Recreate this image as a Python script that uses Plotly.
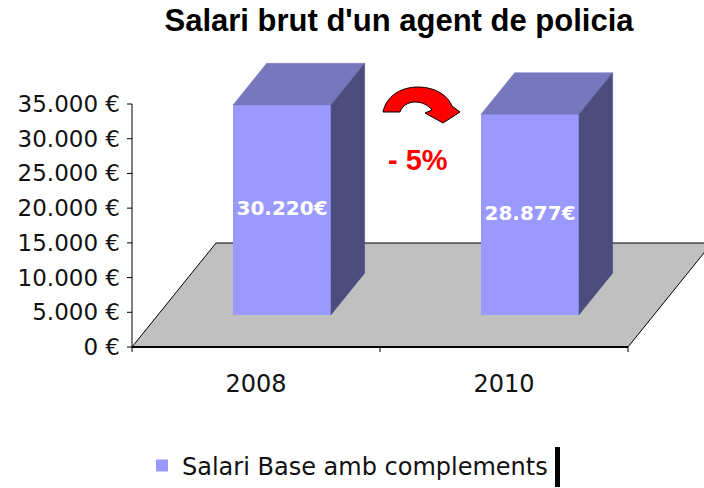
import plotly.graph_objects as go

# ---------------- data ----------------
categories = ["2008", "2010"]
salaris = [30220, 28877]
series_name = "Salari Base amb complements"
y_tick_values = [0, 5000, 10000, 15000, 20000, 25000, 30000, 35000]
y_tick_labels = ["0 €", "5.000 €", "10.000 €", "15.000 €", "20.000 €",
                 "25.000 €", "30.000 €", "35.000 €"]
title_text = "Salari brut d'un agent de policia"
change_label = "- 5%"

# ---------------- geometry / style ----------------
W, H = 704, 488
ML, MR, MT, MB = 124, 0, 50, 128
PLOT_W = W - ML - MR
PLOT_H = H - MT - MB
AXIS_X_PX = 132           # pixel of the value axis
ZERO_Y_PX = 347           # pixel of value 0 (front floor edge)
PX_PER_UNIT = (347 - 104) / 35000
PX_PER_CAT = 248

x_lo = -0.5 - (AXIS_X_PX - ML) / PX_PER_CAT
x_hi = -0.5 + (W - MR - AXIS_X_PX) / PX_PER_CAT
y_lo = -((MT + PLOT_H) - ZERO_Y_PX) / PX_PER_UNIT
y_hi = (ZERO_Y_PX - MT) / PX_PER_UNIT

DEPTH_DX = 84 / PX_PER_CAT       # full floor depth, in category units
DEPTH_DY = 104 / PX_PER_UNIT     # full floor depth, in value units
D_FRONT, D_BACK = 0.31, 0.71     # depth slice occupied by the bars
BAR_W = 98 / PX_PER_CAT

FRONT_C = "#9999FF"
TOP_C = "#7777BD"
SIDE_C = "#4C4C7E"
FLOOR_C = "#C0C0C0"
TICK_FONT = "DejaVu Sans"


def px_to_paper(px, py):
    return (px - ML) / PLOT_W, (MT + PLOT_H - py) / PLOT_H


idx = list(range(len(categories)))
fx = D_FRONT * DEPTH_DX
fy = D_FRONT * DEPTH_DY
ddx = (D_BACK - D_FRONT) * DEPTH_DX
ddy = (D_BACK - D_FRONT) * DEPTH_DY
centers = [i + fx for i in idx]

fig = go.Figure()

# front faces
fig.add_trace(go.Bar(
    x=centers, y=salaris, base=[fy] * len(salaris), width=BAR_W,
    marker=dict(color=FRONT_C, line=dict(width=0)),
    name=series_name, showlegend=True, hoverinfo="skip",
))

# top and side faces
top_x, top_y, side_x, side_y = [], [], [], []
for c, v in zip(centers, salaris):
    xl, xr = c - BAR_W / 2, c + BAR_W / 2
    top = fy + v
    top_x += [xl, xr, xr + ddx, xl + ddx, xl, None]
    top_y += [top, top, top + ddy, top + ddy, top, None]
    side_x += [xr, xr, xr + ddx, xr + ddx, xr, None]
    side_y += [fy, top, top + ddy, fy + ddy, fy, None]

fig.add_trace(go.Scatter(x=top_x, y=top_y, fill="toself", fillcolor=TOP_C,
                         mode="lines", line=dict(width=0.5, color=TOP_C),
                         showlegend=False, hoverinfo="skip"))
fig.add_trace(go.Scatter(x=side_x, y=side_y, fill="toself", fillcolor=SIDE_C,
                         mode="lines", line=dict(width=0.5, color=SIDE_C),
                         showlegend=False, hoverinfo="skip"))

# data labels
fig.add_trace(go.Scatter(
    x=centers, y=[fy + v / 2 for v in salaris], mode="text",
    text=[f"{v:,}".replace(",", ".") + "€" for v in salaris],
    textfont=dict(family=TICK_FONT, size=20, color="white", weight="bold"),
    showlegend=False, hoverinfo="skip",
))

shapes = []
# floor
n = len(categories)
fl = [(-0.5, 0), (n - 0.5, 0), (n - 0.5 + DEPTH_DX, DEPTH_DY), (-0.5 + DEPTH_DX, DEPTH_DY)]
path = "M " + " L ".join(f"{a},{b}" for a, b in fl) + " Z"
shapes.append(dict(type="path", path=path, xref="x", yref="y", layer="below",
                   fillcolor=FLOOR_C, line=dict(color="black", width=1)))
# front edge (category axis line)
shapes.append(dict(type="line", xref="x", yref="y", x0=-0.5, x1=n - 0.5, y0=0, y1=0,
                   line=dict(color="black", width=2)))
# category ticks
tick_len_y = 5 / PX_PER_UNIT
for k in range(n + 1):
    shapes.append(dict(type="line", xref="x", yref="y", x0=k - 0.5, x1=k - 0.5,
                       y0=0, y1=-tick_len_y, line=dict(color="black", width=1)))
# value axis line and ticks
shapes.append(dict(type="line", xref="x", yref="y", x0=-0.5, x1=-0.5,
                   y0=y_tick_values[0], y1=y_tick_values[-1],
                   line=dict(color="black", width=1)))
tick_len_x = 5 / PX_PER_CAT
for tv in y_tick_values:
    shapes.append(dict(type="line", xref="x", yref="y", x0=-0.5 - tick_len_x, x1=-0.5,
                       y0=tv, y1=tv, line=dict(color="black", width=1)))

# curved arrow (pixel outline converted to paper)
arrow_px = [
    ("M", [(383, 112)]),
    ("C", [(386, 97), (400, 87), (418, 87)]),
    ("C", [(436, 87), (448, 96), (452, 106)]),
    ("L", [(460, 112)]),
    ("L", [(443, 123)]),
    ("L", [(425, 113)]),
    ("L", [(432, 110)]),
    ("C", [(428, 105), (422, 102), (415, 102)]),
    ("C", [(408, 102), (402, 106), (400, 112)]),
]
parts = []
for cmd, pts in arrow_px:
    coords = " ".join("{:.5f},{:.5f}".format(*px_to_paper(a, b)) for a, b in pts)
    parts.append(f"{cmd} {coords}")
shapes.append(dict(type="path", path=" ".join(parts) + " Z", xref="paper", yref="paper",
                   fillcolor="#FF0000", line=dict(color="black", width=1)))

# black mark next to the legend
bx0, by0 = px_to_paper(555, 487)
bx1, by1 = px_to_paper(560, 447)
shapes.append(dict(type="rect", xref="paper", yref="paper", x0=bx0, x1=bx1, y0=by0, y1=by1,
                   fillcolor="black", line=dict(width=0)))

ax_, ay_ = px_to_paper(418, 160)
annotations = [dict(text=change_label, xref="paper", yref="paper", x=ax_, y=ay_,
                    xanchor="center", yanchor="middle", showarrow=False,
                    font=dict(family="Liberation Sans, Arial", size=29, color="#FF0000",
                              weight="bold"))]

fig.update_layout(
    width=W, height=H,
    margin=dict(l=ML, r=MR, t=MT, b=MB, pad=0),
    paper_bgcolor="white", plot_bgcolor="white",
    title=dict(text=title_text, xref="container", yref="container",
               x=399 / W, y=1 - 20 / H, xanchor="center", yanchor="middle",
               font=dict(family="Liberation Sans, Arial", size=31, color="black",
                         weight="bold")),
    xaxis=dict(range=[x_lo, x_hi], tickvals=idx, ticktext=categories, ticks="",
               showgrid=False, zeroline=False, showline=False,
               tickfont=dict(family=TICK_FONT, size=24, color="#111111"),
               ticklabelstandoff=7),
    yaxis=dict(range=[y_lo, y_hi], tickvals=y_tick_values, ticktext=y_tick_labels,
               ticks="", showgrid=False, zeroline=False, showline=False,
               tickfont=dict(family=TICK_FONT, size=23, color="#111111"),
               ticklabelstandoff=3),
    legend=dict(orientation="h", xref="container", yref="container",
                x=142 / W, y=1 - 466 / H, xanchor="left", yanchor="middle",
                font=dict(family=TICK_FONT, size=24, color="#111111"),
                bgcolor="rgba(0,0,0,0)"),
    shapes=shapes, annotations=annotations,
    bargap=0,
)

fig.write_html("out.html", config={"displayModeBar": False},
               post_script="document.body.style.margin='0';document.body.style.overflow='hidden';")
